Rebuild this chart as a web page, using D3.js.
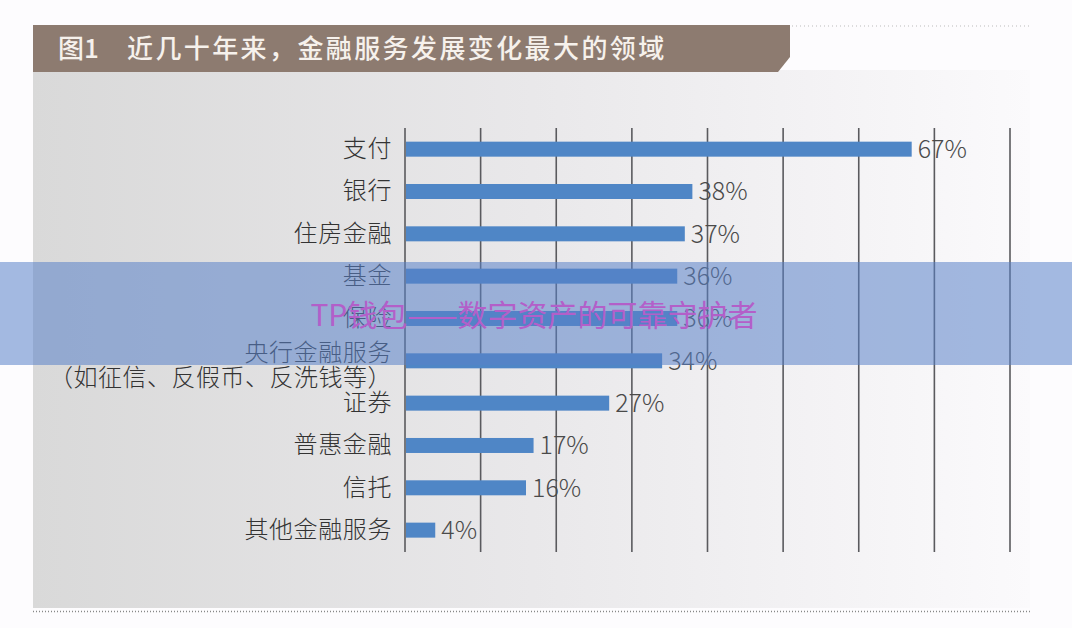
<!DOCTYPE html>
<html><head><meta charset="utf-8">
<script src="https://cdn.jsdelivr.net/npm/d3@7"></script>
<style>
html,body{margin:0;padding:0;background:#fdfcfe;}
svg{display:block;}
</style></head>
<body>
<svg id="chart" width="1072" height="628"></svg>
<script>
const categories = ["支付","银行","住房金融","基金","保险","央行金融服务","证券","普惠金融","信托","其他金融服务"];
const subLabels = ["","","","","","（如征信、反假币、反洗钱等）","","","",""];
const values = [67,38,37,36,36,34,27,17,16,4];
const valueLabels = ["67%","38%","37%","36%","36%","34%","27%","17%","16%","4%"];
const gridTicks = [0,10,20,30,40,50,60,70,80];
const titleNum = "图1";
const titleText = "近几十年来，金融服务发展变化最大的领域";
const watermark = "TP钱包——数字资产的可靠守护者";

const svg = d3.select("#chart");
const FONT = "'Noto Sans CJK SC','Noto Sans',sans-serif";

const defs = svg.append("defs");
const g1 = defs.append("linearGradient").attr("id","panelGrad").attr("x1","0").attr("x2","1").attr("y1","0").attr("y2","0");
g1.append("stop").attr("offset","0").attr("stop-color","#d9d9d9");
g1.append("stop").attr("offset","0.5").attr("stop-color","#e9e8ea");
g1.append("stop").attr("offset","1").attr("stop-color","#fbfafc");

svg.append("rect").attr("x",33).attr("y",70).attr("width",997).attr("height",538).attr("fill","url(#panelGrad)");

svg.append("line").attr("x1",33).attr("x2",1030).attr("y1",611.5).attr("y2",611.5)
  .attr("stroke","#888").attr("stroke-width",1.5).attr("stroke-dasharray","1,2");
svg.append("line").attr("x1",792).attr("x2",1030).attr("y1",26).attr("y2",26)
  .attr("stroke","#bbb").attr("stroke-width",1).attr("stroke-dasharray","1,3");

svg.append("path").attr("d","M33,25 L790,25 L790,57 L778,72 L33,72 Z").attr("fill","#8d7b70");
svg.append("text").attr("x",58).attr("y",58).attr("font-family",FONT).attr("font-size",26).attr("font-weight",500)
  .attr("fill","#f6f1ec").text(titleNum);
svg.append("text").attr("x",127).attr("y",58).attr("font-family",FONT).attr("font-size",26).attr("font-weight",500)
  .attr("letter-spacing",2.4).attr("fill","#f6f1ec").text(titleText);

const x = d3.scaleLinear().domain([0,80]).range([405,1010]);
const y = d3.scaleBand().domain(categories).range([128,551.3]).padding(0);
const barH = 15;

svg.append("g").selectAll("line").data(gridTicks).join("line")
  .attr("x1",d=>x(d)).attr("x2",d=>x(d)).attr("y1",128).attr("y2",552)
  .attr("stroke","#5a5a5e").attr("stroke-width",1.6);

svg.append("g").selectAll("rect").data(categories).join("rect")
  .attr("x",x(0)+1).attr("y",d=>y(d)+y.bandwidth()/2-barH/2)
  .attr("width",(d,i)=>x(values[i])-x(0)-1).attr("height",barH)
  .attr("fill","#4f86c6");

const lab = svg.append("g").attr("font-family",FONT).attr("font-size",24).attr("font-weight",300)
  .attr("fill","#333").attr("text-anchor","end").attr("letter-spacing",0.6);
categories.forEach((c,i)=>{
  const cy = y(c)+y.bandwidth()/2;
  if(subLabels[i]){
    lab.append("text").attr("x",392).attr("y",cy).text(c);
    lab.append("text").attr("x",392).attr("y",cy+25).attr("letter-spacing",0.5).text(subLabels[i]);
  } else {
    lab.append("text").attr("x",392).attr("y",cy+8).text(c);
  }
});

svg.append("g").selectAll("text").data(categories).join("text")
  .attr("x",(d,i)=>x(values[i])+6).attr("y",d=>y(d)+y.bandwidth()/2+9)
  .attr("font-family",FONT).attr("font-size",25).attr("font-weight",300).attr("fill","#4a4a4a")
  .text((d,i)=>valueLabels[i]);

svg.append("rect").attr("x",0).attr("y",262).attr("width",1072).attr("height",103)
  .attr("fill","rgb(90,130,200)").attr("fill-opacity",0.55);
svg.append("text").attr("x",534).attr("y",326).attr("text-anchor","middle")
  .attr("font-family",FONT).attr("font-size",30).attr("fill","#b35fc9").text(watermark);
</script>
</body></html>
